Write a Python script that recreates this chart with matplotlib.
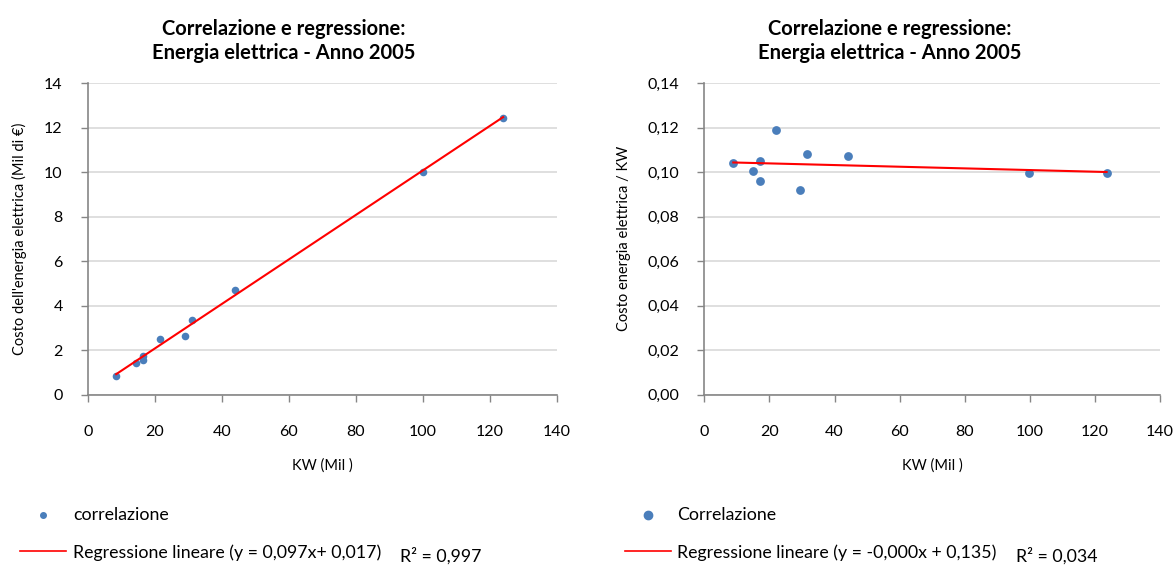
import matplotlib
matplotlib.use('Agg')
import matplotlib.pyplot as plt
from matplotlib.lines import Line2D
from matplotlib.ticker import FuncFormatter, MultipleLocator
import numpy as np

plt.rcParams['font.family'] = ['Lato', 'DejaVu Sans']

# ---- data ----
kw = [8.5, 14.5, 16.5, 16.5, 21.5, 29.0, 31.0, 44.0, 100.0, 124.0]
costo = [0.85, 1.42, 1.72, 1.58, 2.52, 2.65, 3.35, 4.72, 10.0, 12.45]
kw_r = [8.9, 15.0, 17.2, 17.2, 22.0, 29.5, 31.6, 44.2, 99.7, 123.6]
costo_kw = [0.104, 0.1005, 0.105, 0.096, 0.119, 0.092, 0.108, 0.107, 0.0998, 0.0998]

titolo = 'Correlazione e regressione:\nEnergia elettrica - Anno 2005'
xlabel = 'KW (Mil )'
ylabel_sx = "Costo dell'energia elettrica (Mil di €)"
ylabel_dx = 'Costo energia elettrica / KW'
leg_sx = ['correlazione', 'Regressione lineare (y = 0,097x+ 0,017)', 'R² = 0,997']
leg_dx = ['Correlazione', 'Regressione lineare (y = -0,000x + 0,135)', 'R² = 0,034']

blu = '#4a7ebb'
rosso = '#ff0000'
grigio = '#868686'
griglia = '#d9d9d9'

W, H = 1176, 565
fig = plt.figure(figsize=(W / 100, H / 100), dpi=100)


def styleAxis(ax):
    for s in ['top', 'right']:
        ax.spines[s].set_visible(False)
    for s in ['left', 'bottom']:
        ax.spines[s].set_color(grigio)
        ax.spines[s].set_linewidth(1.2)
    ax.tick_params(direction='out', length=5, color=grigio, width=1,
                   labelsize=11.5, labelcolor='black')
    ax.tick_params(axis='x', pad=17)
    ax.tick_params(axis='y', pad=13)
    ax.yaxis.grid(True, color=griglia, linewidth=1.2)
    ax.set_axisbelow(True)
    ax.set_xlim(0, 140)
    ax.xaxis.set_major_locator(MultipleLocator(20))


def drawChart(ax, x, y, ymax, ystep, fmt, ylabel, msize, title_x):
    styleAxis(ax)
    ax.scatter(x, y, s=msize, color=blu, zorder=3, linewidths=0)
    coef = np.polyfit(x, y, 1)
    xs = np.array([min(x), max(x)])
    ax.plot(xs, np.polyval(coef, xs), color=rosso, linewidth=1.5, zorder=4)
    ax.set_ylim(0, ymax)
    ax.yaxis.set_major_locator(MultipleLocator(ystep))
    ax.yaxis.set_major_formatter(FuncFormatter(fmt))
    ax.set_title(titolo, fontsize=14.5, fontweight='bold', pad=17, linespacing=1.3, x=title_x)
    ax.set_xlabel(xlabel, fontsize=10.5, labelpad=14)
    ax.set_ylabel(ylabel, fontsize=10.5, labelpad=12)


def drawLegend(labels, mx, msize, lx0, lx1, tx, rx):
    ym = 1 - 515 / H
    yl = 1 - 553 / H
    fig.add_artist(Line2D([mx / W], [ym], marker='o', markersize=msize, color=blu,
                          linestyle='none', transform=fig.transFigure))
    fig.text(tx / W, ym, labels[0], fontsize=12.8, va='center')
    fig.add_artist(Line2D([lx0 / W, lx1 / W], [yl + 0.003, yl + 0.003], color=rosso,
                          linewidth=1.2, transform=fig.transFigure))
    fig.text(tx / W, yl, labels[1], fontsize=12.8, va='center')
    fig.text(rx / W, yl - 0.006, labels[2], fontsize=12.8, va='center')


# title centred on the whole chart area, not on the plot area
axL = fig.add_axes([87.7 / W, 170.3 / H, 469 / W, 311.7 / H])
drawChart(axL, kw, costo, 14, 2, lambda v, p: '%d' % v, ylabel_sx, 30, (284 - 87.7) / 469)

axR = fig.add_axes([704.3 / W, 170.3 / H, 455.7 / W, 311.7 / H])
drawChart(axR, kw_r, costo_kw, 0.14, 0.02, lambda v, p: ('%.2f' % v).replace('.', ','), ylabel_dx, 40,
          (890 - 704.3) / 455.7)

drawLegend(leg_sx, 43, 4, 20, 66, 73, 400)
drawLegend(leg_dx, 648, 6, 625, 671, 677, 1016)

plt.savefig('out.png', dpi=100)
